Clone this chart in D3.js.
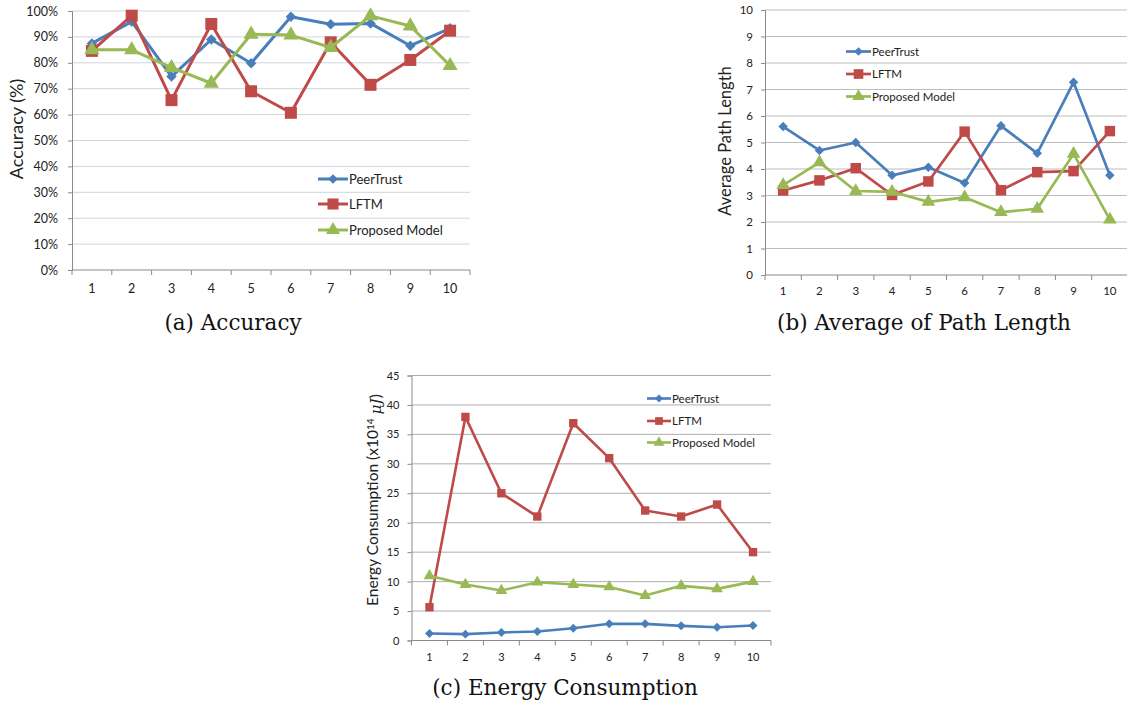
<!DOCTYPE html>
<html><head><meta charset="utf-8">
<script src="https://cdn.jsdelivr.net/npm/d3@7/dist/d3.min.js"></script>
<style>
html,body{margin:0;padding:0;background:#fff;}
svg{display:block;}
text{font-family:Lato,"Open Sans",sans-serif;fill:#222;}
.cap{font-family:"DejaVu Serif","Liberation Serif",serif;fill:#111;}
</style></head>
<body>
<svg id="c" width="1127" height="704"></svg>
<script>
const categories = ["1","2","3","4","5","6","7","8","9","10"];
const seriesNames = ["PeerTrust","LFTM","Proposed Model"];
const seriesColors = ["#4A7EBB","#BE4B48","#98B954"];

const accPeer = [87.5, 95.9, 74.7, 89.0, 79.8, 97.8, 94.9, 95.2, 86.6, 93.3];
const accLftm = [84.6, 98.2, 65.6, 95.0, 69.0, 60.7, 87.9, 71.5, 81.1, 92.4];
const accProp = [85.0, 85.0, 78.1, 72.1, 91.0, 90.7, 85.9, 98.1, 94.2, 78.9];
const accTicks = [0,10,20,30,40,50,60,70,80,90,100];

const pathPeer = [5.60, 4.70, 5.00, 3.76, 4.07, 3.47, 5.63, 4.59, 7.27, 3.76];
const pathLftm = [3.19, 3.57, 4.03, 3.02, 3.53, 5.41, 3.20, 3.88, 3.92, 5.43];
const pathProp = [3.39, 4.25, 3.17, 3.14, 2.76, 2.93, 2.37, 2.50, 4.57, 2.09];
const pathTicks = [0,1,2,3,4,5,6,7,8,9,10];

const energyPeer = [1.19, 1.08, 1.36, 1.53, 2.09, 2.83, 2.83, 2.49, 2.26, 2.55];
const energyLftm = [5.66, 37.97, 25.0, 21.05, 36.9, 30.96, 22.07, 21.05, 23.09, 15.0];
const energyProp = [10.98, 9.5, 8.49, 9.9, 9.5, 9.1, 7.64, 9.28, 8.77, 10.0];
const energyTicks = [0,5,10,15,20,25,30,35,40,45];

const svg = d3.select("#c");

function drawChart(cfg){
  const g = svg.append("g");
  const x = d3.scaleBand().domain(categories).range([cfg.x0, cfg.x1]);
  const y = d3.scaleLinear().domain([cfg.ticks[0], cfg.ticks[cfg.ticks.length-1]]).range([cfg.y0, cfg.y1]);
  // gridlines
  g.append("g").selectAll("line").data(cfg.ticks.slice(1)).join("line")
    .attr("x1", cfg.x0).attr("x2", cfg.x1)
    .attr("y1", d=>y(d)).attr("y2", d=>y(d))
    .attr("stroke", cfg.grid).attr("stroke-width", 1);
  // y axis
  const ya = d3.axisLeft(y).tickValues(cfg.ticks).tickSize(4).tickPadding(cfg.tickPad)
    .tickFormat(cfg.fmt);
  const yg = g.append("g").attr("transform", `translate(${cfg.x0},0)`).call(ya);
  yg.select(".domain").attr("stroke", "#8a8a8a");
  yg.selectAll(".tick line").attr("stroke", "#8a8a8a");
  yg.selectAll("text").style("font-size", cfg.tickFs+"px").attr("fill","#333");
  // x axis
  const xg = g.append("g");
  xg.append("line").attr("x1", cfg.x0).attr("x2", cfg.x1).attr("y1",cfg.y0).attr("y2",cfg.y0).attr("stroke","#8a8a8a");
  const bounds = categories.map(c=>x(c)).concat([cfg.x1]);
  xg.selectAll("line.t").data(bounds).join("line").attr("class","t")
    .attr("x1", d=>d).attr("x2", d=>d).attr("y1",cfg.y0).attr("y2",cfg.y0+5).attr("stroke","#8a8a8a");
  xg.selectAll("text.xl").data(categories).join("text").attr("class","xl")
    .attr("x", d=>x(d)+x.bandwidth()/2).attr("y", cfg.xLabY).attr("dy","0.35em")
    .attr("text-anchor","middle").style("font-size", cfg.tickFs+"px").attr("fill","#333").text(d=>d);
  // y title
  const yt = g.append("text").attr("transform", `translate(${cfg.ytX},${cfg.ytY}) rotate(-90)`)
    .attr("text-anchor","middle").attr("dy","0.35em").style("font-size", cfg.ytFs+"px").attr("fill","#111");
  cfg.ytitle(yt);
  // series
  const cx = d => x(d)+x.bandwidth()/2;
  const line = d3.line().x((d,i)=>cx(categories[i])).y(d=>y(d));
  const symbols = [
    {type:d3.symbolSquare, size:cfg.ms[0], rot:45},
    {type:d3.symbolSquare, size:cfg.ms[1], rot:0},
    {type:d3.symbolTriangle, size:cfg.ms[2], rot:0}
  ];
  cfg.series.forEach((vals, si)=>{
    g.append("path").datum(vals).attr("d", line).attr("fill","none")
      .attr("stroke", seriesColors[si]).attr("stroke-width", cfg.lw).attr("stroke-linejoin","round");
    const sym = d3.symbol().type(symbols[si].type).size(symbols[si].size);
    g.append("g").selectAll("path").data(vals).join("path")
      .attr("d", sym)
      .attr("transform", (d,i)=>`translate(${cx(categories[i])},${y(d)}) rotate(${symbols[si].rot})`)
      .attr("fill", seriesColors[si]);
  });
  // legend
  seriesNames.forEach((nm, si)=>{
    const ly = cfg.leg.y[si];
    const lg = g.append("g");
    lg.append("line").attr("x1", cfg.leg.x).attr("x2", cfg.leg.x+cfg.leg.len).attr("y1", ly).attr("y2", ly)
      .attr("stroke", seriesColors[si]).attr("stroke-width", cfg.lw);
    const sym = d3.symbol().type(symbols[si].type).size(symbols[si].size*0.85);
    lg.append("path").attr("d", sym)
      .attr("transform", `translate(${cfg.leg.x+cfg.leg.len/2},${ly}) rotate(${symbols[si].rot})`)
      .attr("fill", seriesColors[si]);
    lg.append("text").attr("x", cfg.leg.x+cfg.leg.len+1).attr("y", ly).attr("dy","0.35em")
      .style("font-size", cfg.leg.fs+"px").attr("fill","#222").text(nm);
  });
  // caption
  svg.append("text").attr("class","cap").attr("x", cfg.cap.x).attr("y", cfg.cap.y)
    .attr("text-anchor","middle").style("font-size", cfg.cap.fs+"px").text(cfg.cap.t);
}

drawChart({
  x0:72, x1:470, y0:270, y1:11, ticks:accTicks, fmt:d=>d+"%", tickFs:12.5, tickPad:10, xLabY:289,
  grid:"#cfd5de",
  ytX:17, ytY:129, ytFs:18, ytitle:t=>t.text("Accuracy (%)"),
  series:[accPeer, accLftm, accProp], ms:[55,144,100], lw:3,
  leg:{x:318, len:30, y:[179,204,230], fs:13},
  cap:{x:233, y:330, fs:21.5, t:"(a)  Accuracy"}
});

drawChart({
  x0:765, x1:1128, y0:275, y1:10, ticks:pathTicks, fmt:d=>d, tickFs:11.5, tickPad:8, xLabY:291,
  grid:"#bdbdbd",
  ytX:725, ytY:141, ytFs:16.5, ytitle:t=>t.text("Average Path Length"),
  series:[pathPeer, pathLftm, pathProp], ms:[45,110,80], lw:2.7,
  leg:{x:846, len:25, y:[51.5,74,96.5], fs:11.5},
  cap:{x:924, y:330, fs:21.5, t:"(b)  Average of Path Length"}
});

drawChart({
  x0:411.5, x1:771, y0:640.5, y1:375.5, ticks:energyTicks, fmt:d=>d, tickFs:11, tickPad:8, xLabY:657,
  grid:"#adadad",
  ytX:373, ytY:500, ytFs:15.5, ytitle:t=>{
    t.append("tspan").text("Energy Consumption (x10");
    t.append("tspan").attr("dy","-0.45em").style("font-size","10px").text("14");
    t.append("tspan").attr("dy","0.45em").text(" ");
    t.append("tspan").style("font-style","italic").style("font-family","DejaVu Serif,serif").text("\u03BCJ");
    t.append("tspan").text(")");
  },
  series:[energyPeer, energyLftm, energyProp], ms:[40,70,60], lw:2.6,
  leg:{x:647, len:24, y:[398.5,421,442.5], fs:11.5},
  cap:{x:565, y:695, fs:21.5, t:"(c)  Energy Consumption"}
});
</script>
</body></html>
